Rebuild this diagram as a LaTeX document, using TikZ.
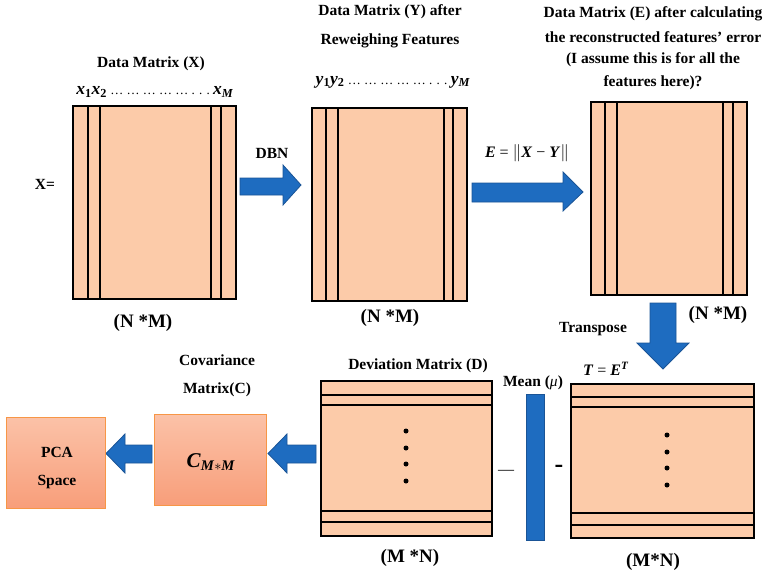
\documentclass[tikz,border=0pt]{standalone}
\usepackage{fontspec}
\setmainfont{Liberation Serif}
\usetikzlibrary{calc}
\definecolor{peach}{HTML}{FCCBA9}
\definecolor{arrblue}{HTML}{1E6CC0}
\definecolor{arrbord}{HTML}{1A5496}
\definecolor{orgtop}{HTML}{FBC2A8}
\definecolor{orgbot}{HTML}{F89E7A}
\definecolor{orgbord}{HTML}{F79646}
\newcommand{\bi}[1]{\textbf{\textit{#1}}}
\newcommand{\bsub}[1]{\textsubscript{\textbf{#1}}}
\newcommand{\dotrun}{{\fontsize{13}{13}\selectfont\ … … … … … . . .\ }}
\tikzset{
  matbox/.style={draw=black, line width=1.8pt, fill=peach, inner sep=0pt},
  inner/.style={draw=black, line width=1.4pt},
  lbl/.style={font=\fontsize{15.5}{18}\selectfont\bfseries, inner sep=1pt},
  dimlbl/.style={font=\fontsize{19}{22}\selectfont\bfseries, inner sep=1pt},
  mlbl/.style={font=\fontsize{17.5}{20}\selectfont, inner sep=1pt},
  eqlbl/.style={font=\fontsize{16}{19}\selectfont, inner sep=1pt},
  blockarrow/.style={fill=arrblue, draw=arrbord, line width=0.8pt, line join=miter},
  orgbox/.style={draw=orgbord, line width=1pt, top color=orgtop, bottom color=orgbot, inner sep=0pt},
  dotm/.style={fill=black, draw=none}
}
\begin{document}
\begin{tikzpicture}[x=1pt,y=-1pt]
\useasboundingbox (0,0) rectangle (765,573);

% ---------- Matrix X ----------
\node[matbox, minimum width=163pt, minimum height=193pt] (X) at (154.5,202.5) {};
\foreach \xx in {88,100,211,221} \draw[inner] (\xx,106) -- (\xx,299);
\node[lbl] (tX) at (151,64) {Data Matrix (X)};
\node[mlbl] (xl) at (155,92) {\bi{x}\bsub{1}\bi{x}\bsub{2}\dotrun\bi{x}\bsub{\textit{M}}};
\node[lbl] (Xeq) at (45,184) {X=};
\node[dimlbl] (dX) at (143,323) {(N *M)};

% DBN arrow
\draw[blockarrow] (240,178) -- (283,178) -- (283,165) -- (301,185) -- (283,205) -- (283,195) -- (240,195) -- cycle;
\node[lbl] (dbn) at (272,153) {DBN};

% ---------- Matrix Y ----------
\node[matbox, minimum width=155pt, minimum height=193pt] (Y) at (389.5,204.5) {};
\foreach \xx in {326,338,444,453} \draw[inner] (\xx,108) -- (\xx,301);
\node[lbl] (tY1) at (390,12) {Data Matrix (Y) after};
\node[lbl] (tY2) at (390,41) {Reweighing Features};
\node[mlbl] (yl) at (393,82) {\bi{y}\bsub{1}\bi{y}\bsub{2}\dotrun\bi{y}\bsub{\textit{M}}};
\node[dimlbl] (dY) at (390,318) {(N *M)};

% E arrow
\draw[blockarrow] (472,183) -- (563,183) -- (563,172) -- (583,192) -- (563,211) -- (563,202) -- (472,202) -- cycle;
\node[eqlbl] (eq) at (527,153) {\bi{E} = $\|$\bi{X} − \bi{Y}$\|$};

% ---------- Matrix E ----------
\node[matbox, minimum width=156pt, minimum height=193pt] (E) at (669,198.5) {};
\foreach \xx in {605,617,723,733} \draw[inner] (\xx,102) -- (\xx,295);
\node[lbl] (tE1) at (653,14) {Data Matrix (E) after calculating};
\node[lbl] (tE2) at (653,37) {the reconstructed features’ error};
\node[lbl] (tE3) at (653,60) {(I assume this is for all the};
\node[lbl] (tE4) at (653,83) {features here)?};
\node[dimlbl] (dE) at (718,315) {(N *M)};

% Transpose arrow
\draw[blockarrow] (650,303) -- (676,303) -- (676,343) -- (689,343) -- (663,369) -- (637,343) -- (650,343) -- cycle;
\node[lbl] (tr) at (593,329) {Transpose};
\node[eqlbl] (teq) at (606,369) {\bi{T} = \bi{E}\textsuperscript{\bi{T}}};

% ---------- Matrix T ----------
\node[matbox, minimum width=183pt, minimum height=154pt] (T) at (662.5,461) {};
\foreach \yy in {397,407,513,525} \draw[inner] (571,\yy) -- (754,\yy);
\foreach \yy in {435,452,468,485} \fill[dotm] (667,\yy) circle (2.5pt);
\node[dimlbl] (dT) at (653,562) {(M*N)};

% Mean bar
\node[fill=arrblue, draw=arrbord, line width=0.8pt, minimum width=18pt, minimum height=146pt, inner sep=0pt] (mu) at (535,467) {};
\node[lbl] (mul) at (533,383) {Mean (\textit{\mdseries μ})};
\node[font=\fontsize{26}{26}\selectfont\bfseries, inner sep=0pt] (m2) at (559,469) {-};
\node[font=\fontsize{16}{16}\selectfont, inner sep=0pt] (m1) at (506,472) {—};

% ---------- Matrix D ----------
\node[matbox, minimum width=171pt, minimum height=155pt] (D) at (406.5,458.5) {};
\foreach \yy in {395,405,511,522} \draw[inner] (321,\yy) -- (492,\yy);
\foreach \yy in {431,448,464,481} \fill[dotm] (406,\yy) circle (2.5pt);
\node[lbl] (tD) at (418,366) {Deviation Matrix (D)};
\node[dimlbl] (dD) at (410,558) {(M *N)};

% D -> C arrow
\draw[blockarrow] (316,445) -- (287,445) -- (287,434) -- (268,453.5) -- (287,473) -- (287,463) -- (316,463) -- cycle;

% ---------- Covariance ----------
\node[orgbox, minimum width=112pt, minimum height=91pt] (C) at (210,459.5) {};
\node[font=\fontsize{21}{24}\selectfont, inner sep=0pt] (cl) at (211,462) {\bi{C}\textsubscript{\bi{M}$*$\bi{M}}};
\node[lbl] (tC1) at (217,360) {Covariance};
\node[lbl] (tC2) at (217,390) {Matrix(C)};

% C -> PCA arrow
\draw[blockarrow] (152,445) -- (125,445) -- (125,434) -- (106,453.5) -- (125,473) -- (125,463) -- (152,463) -- cycle;

% ---------- PCA ----------
\node[orgbox, minimum width=99pt, minimum height=91pt] (P) at (55.5,462.5) {};
\node[lbl] (p1) at (57,452) {PCA};
\node[lbl] (p2) at (57,482) {Space};
\end{tikzpicture}
\end{document}
